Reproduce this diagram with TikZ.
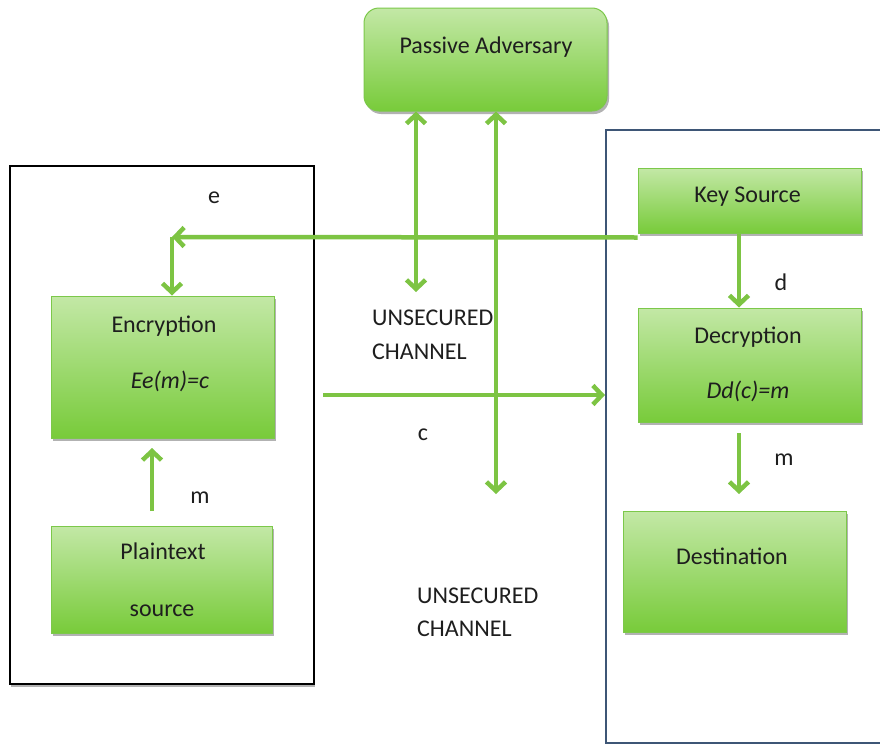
\documentclass[tikz,border=0pt]{standalone}
\usepackage{fontspec}
\setmainfont{Carlito}
\usetikzlibrary{arrows.meta,shadows,calc}

\definecolor{boxtop}{HTML}{C3E8A6}
\definecolor{boxbot}{HTML}{78CB3A}
\definecolor{boxedge}{HTML}{7CC84A}
\definecolor{flow}{HTML}{7DC443}
\definecolor{frameblue}{HTML}{3E5676}
\definecolor{ink}{HTML}{1E1E1E}

\begin{document}
\begin{tikzpicture}[x=1pt,y=-1pt,
  txt/.style={font=\fontsize{24}{29}\selectfont, text=ink, inner sep=0pt},
  gbox/.style={draw=boxedge, line width=1pt, top color=boxtop, bottom color=boxbot,
    inner sep=0pt, drop shadow={shadow xshift=2pt, shadow yshift=-3pt, opacity=0.3, fill=black}},
  frame/.style={line width=2pt, inner sep=0pt},
  flowline/.style={draw=flow, line width=4.5pt},
  flowarrow/.style={flowline, -{Straight Barb[length=9pt,width=19pt]}},
  flowboth/.style={flowline, {Straight Barb[length=9pt,width=19pt]}-{Straight Barb[length=9pt,width=19pt]}}]

  % page
  \fill[white] (0,0) rectangle (880,744);
  \useasboundingbox (0,0) rectangle (880,744);

  % sender and receiver enclosures
  \node[frame, draw=black, fill=white, minimum width=304pt, minimum height=518pt,
        drop shadow={shadow xshift=1pt, shadow yshift=-3pt, opacity=0.3, fill=black}]
        (lframe) at (162,425) {};
  \node[frame, draw=frameblue, minimum width=290pt, minimum height=613pt] (rframe) at (751,436.5) {};

  % boxes
  \node[gbox, rounded corners=15pt, minimum width=243pt, minimum height=103pt] (pa) at (485.5,59.5) {};
  \node[gbox, minimum width=223pt, minimum height=65pt]  (ks)  at (749.5,200.5) {};
  \node[gbox, minimum width=223pt, minimum height=114pt] (dec) at (749.5,365) {};
  \node[gbox, minimum width=223pt, minimum height=142pt] (enc) at (162.5,367) {};
  \node[gbox, minimum width=221pt, minimum height=107pt] (pt)  at (161.5,579.5) {};
  \node[gbox, minimum width=223pt, minimum height=121pt] (dst) at (734.5,571.5) {};

  % box texts
  \node[txt, anchor=base] (patxt) at (486,53) {Passive Adversary};
  \node[txt, anchor=base] (kstxt) at (747.5,202) {Key Source};
  \node[txt, anchor=base] (dectxt) at (748,343) {Decryption};
  \node[txt, anchor=base] (decfn) at (748,398) {\itshape Dd(c)=m};
  \node[txt, anchor=base] (enctxt) at (164,332) {Encryption};
  \node[txt, anchor=base] (encfn) at (170,388) {\itshape Ee(m)=c};
  \node[txt, anchor=base] (pttxt) at (163,559) {Plaintext};
  \node[txt, anchor=base] (ptsrc) at (162,616) {source};
  \node[txt, anchor=base] (dsttxt) at (732,564) {Destination};

  % connector end points
  \coordinate (kcorner) at (172,237);
  \coordinate (kstart) at ($(ks.south west)+(0,4)$);
  \coordinate (cstart) at (323,395);
  \coordinate (tapA) at (416,292);
  \coordinate (tapB) at (496,494);
  \coordinate (mdown) at (739,494);
  \coordinate (mstart) at (739,433);
  \coordinate (mup) at (152,448);
  \coordinate (mfrom) at (152,511);
  \coordinate (kx) at (739,0);

  % key distribution
  \draw[flowarrow] (kstart) -- (kcorner);
  \draw[flowarrow] (kcorner) -- (kcorner |- enc.north);
  \draw[flowarrow] (ks.south -| kx) -- (dec.north -| kx);

  % message flow
  \draw[flowarrow] (mfrom) -- (mup);
  \draw[flowarrow] (cstart) -- (rframe.west |- cstart);
  \draw[flowarrow] (mstart) -- (mdown);

  % adversary taps on the channel
  \draw[flowboth] (pa.south -| tapA) -- (tapA);
  \draw[flowboth] (pa.south -| tapB) -- (tapB);

  % labels
  \node[txt, anchor=base] (le) at (214,203) {e};
  \node[txt, anchor=base] (ld) at (781,290) {d};
  \node[txt, anchor=base] (lc) at (423,440) {c};
  \node[txt, anchor=base] (lm1) at (200,503) {m};
  \node[txt, anchor=base] (lm2) at (784,465) {m};
  \node[txt, anchor=base west] (uc1a) at (372,325) {UNSECURED};
  \node[txt, anchor=base west] (uc1b) at (372,359) {CHANNEL};
  \node[txt, anchor=base west] (uc2a) at (417,603) {UNSECURED};
  \node[txt, anchor=base west] (uc2b) at (417,636) {CHANNEL};
\end{tikzpicture}
\end{document}
